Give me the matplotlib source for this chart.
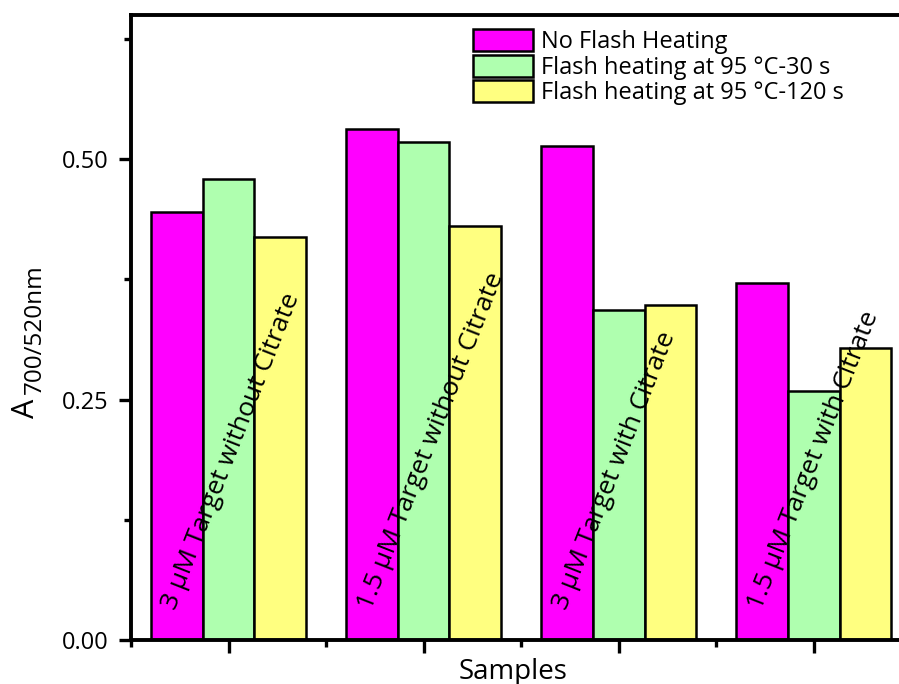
import matplotlib
matplotlib.use("Agg")
import matplotlib.pyplot as plt
import numpy as np
from matplotlib.ticker import MultipleLocator, FixedLocator, FormatStrFormatter

plt.rcParams["font.family"] = ["Open Sans", "DejaVu Sans"]

# Data
samples = [
    "3 μM Target without Citrate",
    "1.5 μM Target without Citrate",
    "3 μM Target with Citrate",
    "1.5 μM Target with Citrate",
]
series_labels = [
    "No Flash Heating",
    "Flash heating at 95 °C-30 s",
    "Flash heating at 95 °C-120 s",
]
no_flash = [0.445, 0.531, 0.514, 0.371]
flash_30s = [0.479, 0.518, 0.343, 0.259]
flash_120s = [0.419, 0.431, 0.348, 0.304]
colors = ["#FF00FF", "#AFFFAF", "#FFFF80"]

fig = plt.figure(figsize=(8.99, 6.84), dpi=100)
ax = fig.add_axes([0.1457, 0.0643, 0.868, 0.9137])

x = np.arange(1, len(samples) + 1)
w = 0.265
for i, (vals, lab, col) in enumerate(zip([no_flash, flash_30s, flash_120s],
                                         series_labels, colors)):
    ax.bar(x + (i - 1) * w, vals, width=w, color=col, edgecolor="black",
           linewidth=1.8, label=lab, zorder=2)

# rotated sample names inside each group
for xi, name in zip(x, samples):
    ax.text(xi - 0.27, 0.03, name, rotation=68.5, rotation_mode="anchor",
            ha="left", va="baseline", fontsize=19, zorder=3)

ax.set_xlim(0.5, 4.5)
ax.set_ylim(0, 0.65)
ax.set_xticks(x)
ax.set_xticklabels([])
ax.xaxis.set_minor_locator(FixedLocator([0.5, 1.5, 2.5, 3.5, 4.5]))
ax.yaxis.set_major_locator(MultipleLocator(0.25))
ax.yaxis.set_minor_locator(MultipleLocator(0.125))
ax.yaxis.set_major_formatter(FormatStrFormatter("%.2f"))
ax.tick_params(which="major", direction="out", length=9, width=2.4,
               labelsize=17, pad=7)
ax.tick_params(which="minor", direction="out", length=5, width=2.4)
for side in ["left", "bottom", "top"]:
    ax.spines[side].set_linewidth(2.8)
ax.spines["right"].set_visible(False)

# y label: "A" with a large subscript, drawn as two texts
fig.text(26 / 899, 1 - 408 / 684, "A", rotation=90, fontsize=22,
         ha="center", va="center")
fig.text(35 / 899, 1 - 394 / 684, "700/520nm", rotation=90, fontsize=17.5,
         ha="center", va="bottom")

ax.set_xlabel("Samples", fontsize=20, labelpad=0)
ax.xaxis.set_label_coords(0.49, -0.028)
ax.xaxis.label.set_va("top")

ax.legend(loc="upper left", bbox_to_anchor=(473 / 899, 1 - 29 / 684),
          bbox_transform=fig.transFigure, frameon=False, fontsize=17,
          handlelength=2.55, handleheight=1.05, labelspacing=0.03,
          handletextpad=0.35, borderpad=0, borderaxespad=0)

fig.savefig("out.png", dpi=100)
